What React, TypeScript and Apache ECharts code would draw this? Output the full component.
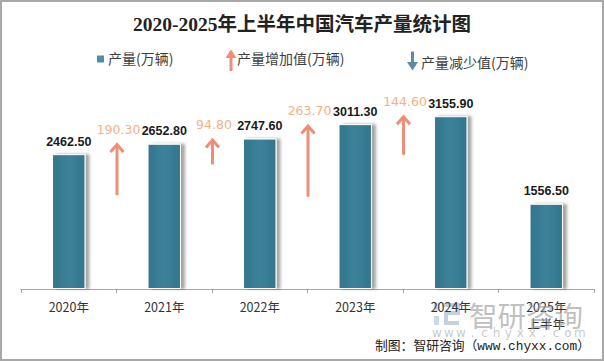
import React, { useEffect, useRef } from "react";
import * as echarts from "echarts";

const categories = ["2020年", "2021年", "2022年", "2023年", "2024年", "2025年\n上半年"];
const production = [2462.5, 2652.8, 2747.6, 3011.3, 3155.9, 1556.5];
// arrows sit between consecutive categories (after category index)
const arrowAfter = [0, 1, 2, 3];
const increaseValues = [190.3, 94.8, 263.7, 144.6];
// arrow start positions on the hidden secondary axis
const arrowBase = [343, 455, 337, 490];
const wwwChars = "www.chyxx.com".split("");

const ORANGE = "#EE8E76";
const ORANGE_TEXT = "#F4B183";
const BLUE_ARROW = "#5B8CA6";

export default function App() {
  const ref = useRef<HTMLDivElement>(null);
  useEffect(() => {
    document.body.style.margin = "0";
    const chart = echarts.init(ref.current!, null, { renderer: "svg" });
    const arrowData = arrowAfter.map((c, k) => [c, arrowBase[k], increaseValues[k]]);

    const wwwGraphics = wwwChars.map((ch, k) => ({
      type: "text",
      x: 437 + k * 11.9,
      y: 333,
      z: 100,
      style: {
        text: ch,
        fill: "rgba(165,165,165,0.6)",
        fontSize: 12,
        fontFamily: "DejaVu Sans",
        align: "center",
        verticalAlign: "middle",
      },
    }));

    chart.setOption({
      animation: false,
      backgroundColor: "#ffffff",
      title: {
        text: "2020-2025年上半年中国汽车产量统计图",
        left: "center",
        top: 10,
        textStyle: {
          fontSize: 19.5,
          fontWeight: "bold",
          fontFamily: "Liberation Serif, Noto Sans CJK SC",
          color: "#222222",
        },
      },
      grid: { left: 21, right: 10, top: 70, bottom: 72 },
      xAxis: {
        type: "category",
        data: categories,
        boundaryGap: true,
        axisLine: { lineStyle: { color: "#A6A6A6", width: 1 } },
        axisTick: { show: true, length: 4, lineStyle: { color: "#A6A6A6" } },
        axisLabel: {
          color: "#333333",
          fontSize: 12.5,
          fontFamily: "Noto Sans CJK SC",
          margin: 9,
          lineHeight: 17,
        },
      },
      yAxis: [
        { type: "value", min: 0, max: 4000, show: false, splitLine: { show: false } },
        { type: "value", min: 0, max: 800, show: false, splitLine: { show: false } },
      ],
      series: [
        {
          type: "bar",
          data: production,
          barWidth: "35%",
          itemStyle: {
            color: new echarts.graphic.LinearGradient(0, 0, 1, 0, [
              { offset: 0, color: "#33758C" },
              { offset: 0.5, color: "#3C8299" },
              { offset: 1, color: "#33758C" },
            ]),
            borderColor: "#ffffff",
            borderWidth: 1,
            shadowColor: "rgba(0,0,0,0.35)",
            shadowBlur: 3,
            shadowOffsetX: 4,
            shadowOffsetY: 0,
          },
          label: {
            show: true,
            position: "top",
            distance: 6,
            formatter: (p: any) => Number(p.value).toFixed(2),
            color: "#1a1a1a",
            fontSize: 12.5,
            fontWeight: "bold",
            fontFamily: "Liberation Sans",
          },
        },
        {
          type: "custom",
          yAxisIndex: 1,
          data: arrowData,
          encode: { x: 0, y: 1 },
          clip: false,
          renderItem: (params: any, api: any) => {
            const i = api.value(0);
            const base = api.value(1);
            const d = api.value(2);
            const p0 = api.coord([i, base]);
            const p1 = api.coord([i, base + d]);
            const half = api.size([1, 0])[0] / 2;
            const x = p0[0] + half + 0.5;
            const top = p1[1];
            return {
              type: "group",
              children: [
                {
                  type: "line",
                  shape: { x1: x, y1: p0[1], x2: x, y2: top + 1.5 },
                  style: { stroke: ORANGE, lineWidth: 3 },
                },
                {
                  type: "polyline",
                  shape: {
                    points: [
                      [x - 6.5, top + 9],
                      [x, top + 1.5],
                      [x + 6.5, top + 9],
                    ],
                  },
                  style: { stroke: ORANGE, lineWidth: 3, fill: null },
                },
                {
                  type: "text",
                  x: x + 1.5,
                  y: top - 14,
                  style: {
                    text: Number(d).toFixed(2),
                    fill: ORANGE_TEXT,
                    fontSize: 12.5,
                    fontFamily: "DejaVu Sans",
                    align: "center",
                    verticalAlign: "middle",
                  },
                },
              ],
            };
          },
        },
      ],
      graphic: [
        // outer border
        {
          type: "rect",
          shape: { x: 1, y: 1, width: 602, height: 359 },
          style: { fill: null, stroke: "#A8A8A8", lineWidth: 2 },
          z: 200,
        },
        // legend: production
        {
          type: "rect",
          shape: { x: 97, y: 55.5, width: 7, height: 7 },
          style: { fill: "#4A8FA6" },
        },
        {
          type: "text",
          x: 108,
          y: 58,
          style: {
            text: "产量(万辆)",
            fill: "#404040",
            fontSize: 14,
            fontFamily: "Noto Sans CJK SC",
            verticalAlign: "middle",
          },
        },
        // legend: increase
        {
          type: "line",
          shape: { x1: 231, y1: 71, x2: 231, y2: 51 },
          style: { stroke: ORANGE, lineWidth: 3 },
        },
        {
          type: "polygon",
          shape: { points: [[225.5, 58], [231, 49.5], [236.5, 58]] },
          style: { fill: ORANGE },
        },
        {
          type: "text",
          x: 237,
          y: 58,
          style: {
            text: "产量增加值(万辆)",
            fill: "#404040",
            fontSize: 14,
            fontFamily: "Noto Sans CJK SC",
            verticalAlign: "middle",
          },
        },
        // legend: decrease
        {
          type: "line",
          shape: { x1: 412.5, y1: 51.5, x2: 412.5, y2: 64 },
          style: { stroke: BLUE_ARROW, lineWidth: 3 },
        },
        {
          type: "polygon",
          shape: { points: [[407, 62], [412.5, 70.5], [418, 62]] },
          style: { fill: BLUE_ARROW },
        },
        {
          type: "text",
          x: 421,
          y: 62,
          style: {
            text: "产量减少值(万辆)",
            fill: "#404040",
            fontSize: 14,
            fontFamily: "Noto Sans CJK SC",
            verticalAlign: "middle",
          },
        },
        // watermark logo
        {
          type: "group",
          z: 100,
          children: [
            {
              type: "rect",
              shape: { x: 434, y: 303, width: 5, height: 8 },
              style: { fill: "rgba(150,180,210,0.5)" },
            },
            {
              type: "rect",
              shape: { x: 434, y: 316, width: 5, height: 9 },
              style: { fill: "rgba(150,180,210,0.5)" },
            },
            {
              type: "polyline",
              shape: {
                points: [
                  [442, 305],
                  [458, 305],
                  [458, 313],
                  [446, 313],
                  [446, 323],
                  [459, 323],
                ],
              },
              style: { stroke: "rgba(150,170,195,0.55)", lineWidth: 4, fill: null },
            },
          ],
        },
        {
          type: "text",
          x: 469,
          y: 314,
          z: 100,
          style: {
            text: "智研咨询",
            fill: "rgba(150,150,150,0.6)",
            fontSize: 28.5,
            fontFamily: "Noto Sans CJK SC",
            verticalAlign: "middle",
          },
        },
        ...wwwGraphics,
        // source
        {
          type: "text",
          x: 590,
          y: 346.5,
          z: 101,
          style: {
            text: "制图：智研咨询（www.chyxx.com）",
            fill: "#222222",
            fontSize: 12.8,
            fontFamily: "Liberation Mono, Noto Sans CJK SC",
            align: "right",
            verticalAlign: "middle",
          },
        },
      ],
    });
    return () => chart.dispose();
  }, []);
  return <div ref={ref} style={{ width: 604, height: 361 }} />;
}
